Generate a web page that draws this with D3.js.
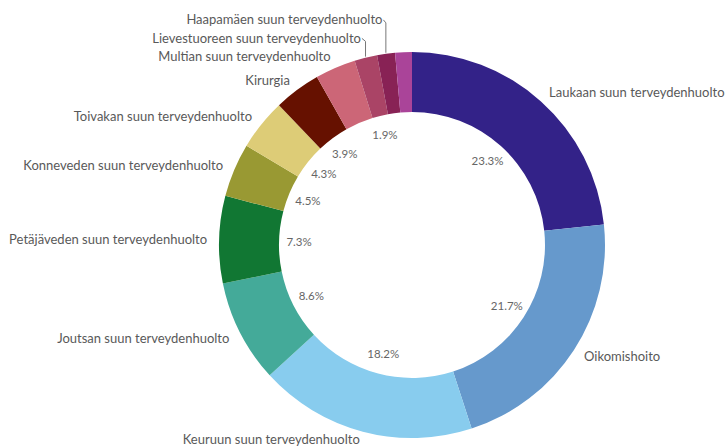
<!DOCTYPE html>
<html>
<head>
<meta charset="utf-8">
<script src="https://cdn.jsdelivr.net/npm/d3@7/dist/d3.min.js"></script>
<style>
  html, body { margin: 0; padding: 0; background: #fff; }
  svg { display: block; }
  text { font-family: Lato, "Open Sans", sans-serif; }
</style>
</head>
<body>
<svg id="chart" width="726" height="448"></svg>
<script>
// ---- data ----
const categories = [
  "Laukaan suun terveydenhuolto",
  "Oikomishoito",
  "Keuruun suun terveydenhuolto",
  "Joutsan suun terveydenhuolto",
  "Petäjäveden suun terveydenhuolto",
  "Konneveden suun terveydenhuolto",
  "Toivakan suun terveydenhuolto",
  "Kirurgia",
  "Multian suun terveydenhuolto",
  "Lievestuoreen suun terveydenhuolto",
  "Haapamäen suun terveydenhuolto",
  ""
];
const values = [23.3, 21.7, 18.2, 8.6, 7.3, 4.5, 4.3, 3.9, 3.4, 1.9, 1.5, 1.4];
const showPct = [true, true, true, true, true, true, true, true, false, true, false, false];
const colors = ["#332288", "#6699cc", "#88ccee", "#44aa99", "#117733", "#999933",
                "#ddcc77", "#661100", "#cc6677", "#aa4466", "#882255", "#aa4499"];

// ---- layout ----
const W = 726, H = 448;
const cx = 412, cy = 245;
const outerR = 193, innerR = 133;
const labelR = 205, pctR = 113;

const svg = d3.select("#chart");
const g = svg.append("g").attr("transform", `translate(${cx},${cy})`);

const data = categories.map((c, i) => ({ name: c, value: values[i], color: colors[i], pct: showPct[i] }));
const pie = d3.pie().value(d => d.value).sort(null);
const arcs = pie(data);
const arc = d3.arc().innerRadius(innerR).outerRadius(outerR);

g.selectAll("path.slice").data(arcs).join("path")
  .attr("class", "slice")
  .attr("d", arc)
  .attr("fill", d => d.data.color);

// percent labels inside the hole
const total = d3.sum(values);
const fmt = d3.format(".1f");
g.selectAll("text.pct").data(arcs.filter(d => d.data.pct)).join("text")
  .attr("class", "pct")
  .attr("x", d => pctR * Math.sin((d.startAngle + d.endAngle) / 2))
  .attr("y", d => -pctR * Math.cos((d.startAngle + d.endAngle) / 2))
  .attr("dy", "0.35em")
  .attr("text-anchor", "middle")
  .attr("font-size", 11.5)
  .attr("fill", "#666666")
  .text(d => fmt(d.data.value / total * 100) + "%");

// outer labels with simple collision avoidance
const maxY = H - cy - 9;
const labels = arcs.filter(d => d.data.name).map(d => {
  const a = (d.startAngle + d.endAngle) / 2;
  const y0 = -labelR * Math.cos(a);
  return {
    name: d.data.name, a,
    x: labelR * Math.sin(a), y0,
    y: Math.min(y0, maxY),
    right: a < Math.PI
  };
});
const minGap = 18.5;
const left = labels.filter(l => !l.right).sort((p, q) => q.y - p.y);
for (let i = 1; i < left.length; i++) {
  if (left[i - 1].y - left[i].y < minGap) left[i].y = left[i - 1].y - minGap;
}
labels.forEach(l => {
  l.moved = (l.y0 - l.y) > 6;
  if (l.moved) l.x = l.right ? l.x + 2 : l.x - 2;
});

g.selectAll("polyline.leader").data(labels.filter(l => l.moved)).join("polyline")
  .attr("class", "leader")
  .attr("fill", "none")
  .attr("stroke", "#777")
  .attr("stroke-width", 1)
  .attr("points", l => {
    const ex = (outerR + 1) * Math.sin(l.a), ey = -(outerR + 1) * Math.cos(l.a);
    return [[l.x + 1, l.y], [ex, l.y + 3], [ex, ey]].map(p => p.join(",")).join(" ");
  });

g.selectAll("text.lab").data(labels).join("text")
  .attr("class", "lab")
  .attr("x", l => l.x)
  .attr("y", l => l.y)
  .attr("dy", "0.35em")
  .attr("text-anchor", l => l.right ? "start" : "end")
  .attr("font-size", 13)
  .attr("fill", "#595959")
  .text(l => l.name);
</script>
</body>
</html>
